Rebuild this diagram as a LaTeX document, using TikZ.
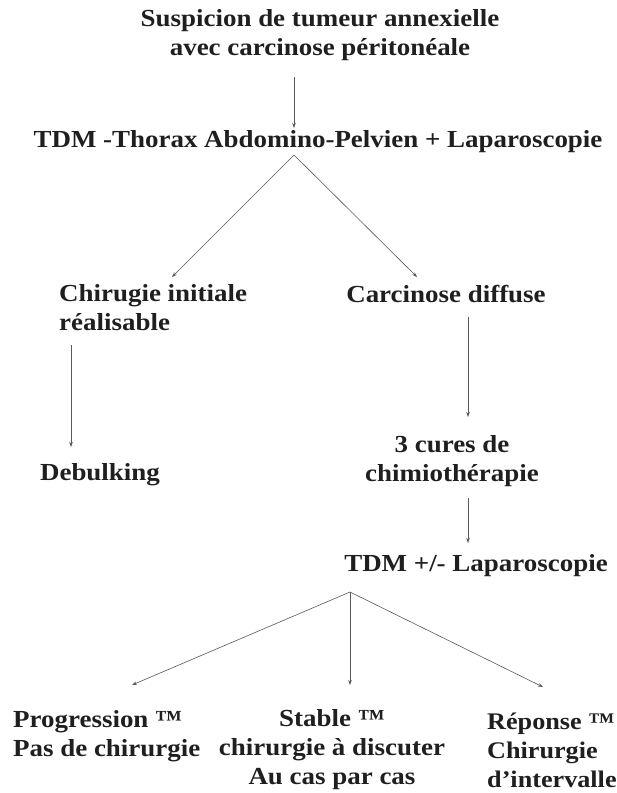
\documentclass[tikz,border=0pt]{standalone}
\usepackage{fontspec}
\setmainfont{Liberation Serif}[FakeStretch=1.1]
\usetikzlibrary{arrows.meta}
\begin{document}
\begin{tikzpicture}[x=1pt,y=-1pt,
  txt/.style={font=\bfseries\fontsize{24.5}{29}\selectfont, text=black!88, inner sep=0pt, align=center},
  arr/.style={draw=black!65, line width=0.6pt, -{Stealth[length=5pt,width=3.5pt]}}]
\useasboundingbox[fill=white] (0,0) rectangle (617,793);
% nodes
\node[txt] (title) at (320,35) {Suspicion de tumeur annexielle\\avec carcinose péritonéale};
\node[txt] (tdm) at (318,142) {TDM -Thorax Abdomino-Pelvien + Laparoscopie};
\node[txt, align=left, anchor=west] (chir) at (59,308) {Chirugie initiale\\réalisable};
\node[txt] (carc) at (446,294) {Carcinose diffuse};
\node[txt] (deb) at (100,475) {Debulking};
\node[txt] (cures) at (452,461) {3 cures de\\chimiothérapie};
\node[txt] (tdm2) at (476,566) {TDM +/- Laparoscopie};
\node[txt, align=left, anchor=west] (prog) at (13,736) {Progression ™\\Pas de chirurgie};
\node[txt] (stab) at (332,750) {Stable ™\\chirurgie à discuter\\Au cas par cas};
\node[txt, align=left, anchor=west, font=\bfseries\fontsize{23.8}{29}\selectfont] (rep) at (487,750) {Réponse ™\\Chirurgie\\d’intervalle};
% connector end points
\coordinate (a1) at (294,77);
\coordinate (a2) at (294,128);
\coordinate (b0) at (294,155);
\coordinate (b1) at (172,277);
\coordinate (b2) at (417,277);
\coordinate (c1) at (71,345);
\coordinate (c2) at (71,447);
\coordinate (d1) at (468,317);
\coordinate (d2) at (468,417);
\coordinate (e1) at (468,498);
\coordinate (e2) at (468,543);
\coordinate (f0) at (350,592);
\coordinate (f1) at (132,685);
\coordinate (f2) at (350,685);
\coordinate (f3) at (543,687);
% connectors
\draw[arr] (a1) -- (a2);
\draw[arr] (b0) -- (b1);
\draw[arr] (b0) -- (b2);
\draw[arr] (c1) -- (c2);
\draw[arr] (d1) -- (d2);
\draw[arr] (e1) -- (e2);
\draw[arr] (f0) -- (f1);
\draw[arr] (f0) -- (f2);
\draw[arr] (f0) -- (f3);
\end{tikzpicture}
\end{document}
